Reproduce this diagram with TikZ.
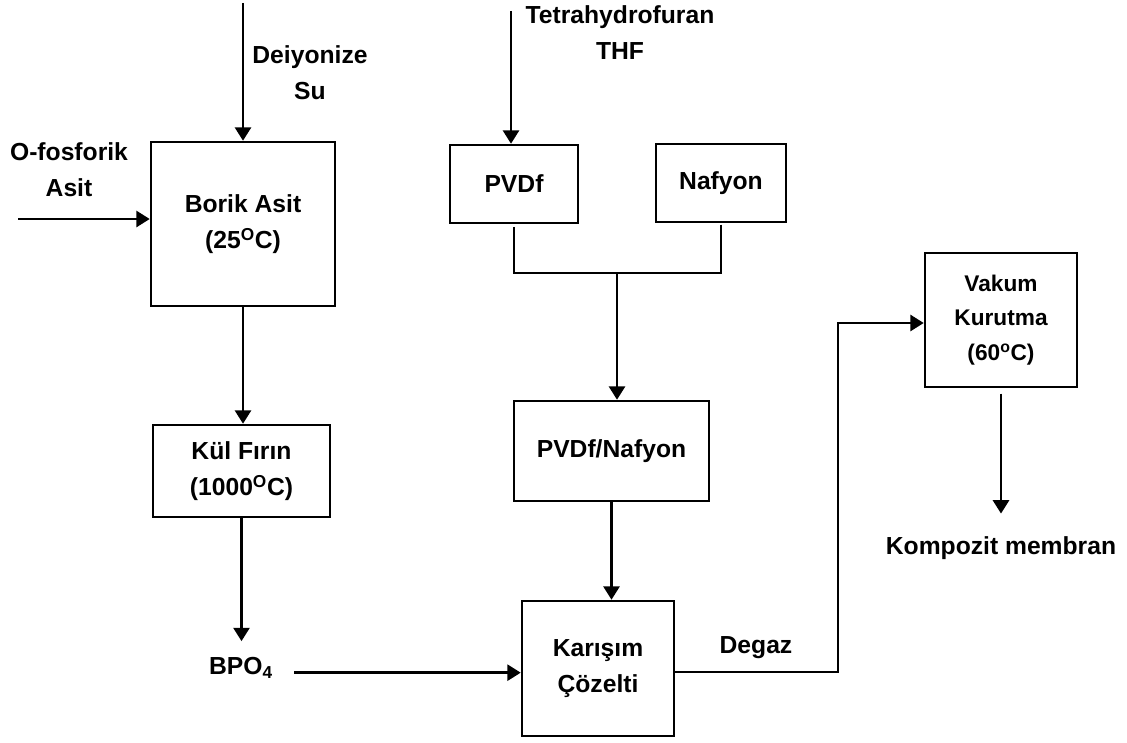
\documentclass[tikz,border=0pt]{standalone}
\usepackage{fontspec}
\setmainfont{Liberation Sans}
\usetikzlibrary{positioning,arrows.meta}

\begin{document}
\begin{tikzpicture}[x=0.75pt, y=-0.75pt,
  font=\bfseries\fontsize{18.5}{27}\selectfont,
  box/.style={draw, line width=1.9pt, align=center, inner sep=0pt},
  lbl/.style={align=center, inner sep=0pt},
  flow/.style={line width=1.9pt, -{Triangle[length=10pt,width=12pt]}}]
  \useasboundingbox (0,0) rectangle (1127,742);

  % process boxes
  \node (borik) [box, minimum width=138pt, minimum height=123pt] at (243,224) {Borik Asit\\(25\textsuperscript{O}C)};
  \node (kul) [box, minimum width=132.75pt, minimum height=69pt] at (241.5,471) {K\"ul F\i r\i n\\(1000\textsuperscript{O}C)};
  \node (pvdf) [box, minimum width=96pt, minimum height=58.5pt] at (514,184) {PVDf};
  \node (nafyon) [box, minimum width=97.5pt, minimum height=58.5pt] at (721,183) {Nafyon};
  \node (pn) [box, minimum width=146.25pt, minimum height=75pt] at (611.5,451) {PVDf/Nafyon};
  \node (kar) [box, minimum width=114pt, minimum height=101.25pt] at (598,668.5) {Kar\i\c{s}\i m\\\c{C}\"ozelti};
  \node (vakum) [box, minimum width=114pt, minimum height=100.5pt,
    font=\bfseries\fontsize{17}{26}\selectfont] at (1001,320) {Vakum\\Kurutma\\(60\textsuperscript{o}C)};

  % labels
  \node (su) [lbl] at (310,73) {Deiyonize\\Su};
  \node (fosfor) [lbl] at (69,170) {O-fosforik\\Asit};
  \node (thf) [lbl] at (620,33) {Tetrahydrofuran\\THF};
  \node (bpo) [lbl] at (241,668) {BPO\textsubscript{4}};
  \node (degaz) [lbl] at (756,648) {Degaz};
  \node (komp) [lbl] at (1001,548) {Kompozit membran};

  \coordinate (suTop) at (243,3);
  \coordinate (fosIn) at (18,219);
  \coordinate (thfTop) at (511,11);
  \coordinate (join) at (617,273);
  \coordinate (bend) at (838,323);

  % inputs
  \draw[flow] (suTop) -- (suTop |- borik.north);
  \draw[flow] (fosIn) -- (fosIn -| borik.west);
  \draw[flow] (thfTop) -- (thfTop |- pvdf.north);

  % left branch
  \draw[flow] (borik.south) -- (borik.south |- kul.north);
  \draw[flow, shorten >=12pt] (kul.south) -- (kul.south |- bpo.north);
  \draw[flow] ([xshift=16pt,yshift=-3.5pt]bpo.east) -- ([yshift=-3.5pt]bpo.east -| kar.west);

  % middle branch
  \draw[line width=1.9pt] ([yshift=-2pt]pvdf.south) |- (join);
  \draw[line width=1.9pt] ([yshift=-1pt]nafyon.south) |- (join);
  \draw[flow] (join) -- (join |- pn.north);
  \draw[flow] (pn.south) -- (pn.south |- kar.north);

  % right branch
  \draw[flow] ([yshift=-2.5pt]kar.east) -| (bend) -- (bend -| vakum.west);
  \draw[flow, shorten >=17pt] ([yshift=-4pt]vakum.south) -- (komp);
\end{tikzpicture}
\end{document}
